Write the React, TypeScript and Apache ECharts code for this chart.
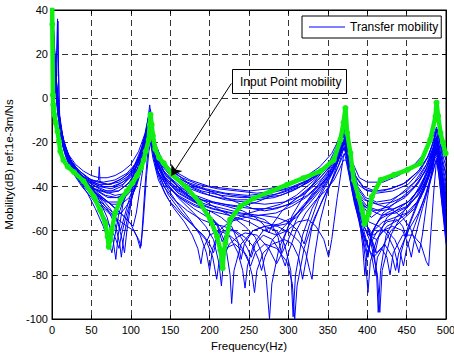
import React, { useEffect, useRef } from "react";
import * as echarts from "echarts";

const FONT = "'Liberation Sans', Arial, Helvetica, sans-serif";

const xTicks = { min: 0, max: 500, interval: 50 };
const yTicks = { min: -100, max: 40, interval: 20 };

const inputPoint: number[][] = [
  [0, 52], [0.4, 33.5], [1.2, 1.5], [1.6, -3], [2.2, -5], [2.9, -7.5], [4.6, -11], [7, -15], [8.9, -19.5], [10.5, -24],
  [14.5, -28], [20, -31], [28, -33.5], [40, -37.5], [53, -44.5], [61, -50.6], [67.7, -56.6], [70.6, -62.7], [72, -67.3],
  [74, -64], [76, -59.5], [80, -52], [87, -46], [95, -42], [102, -38.5], [108, -35], [113, -31.5], [116.3, -28],
  [119, -24], [122.7, -18.8], [124, -12], [125, -7.4], [126.5, -12], [128, -17], [131, -23], [136, -27], [141.7, -29.4],
  [152, -34.5], [171, -40.5], [188, -47.5], [201, -55], [209.5, -62.7], [213.7, -68.8], [215.5, -73], [216.5, -77],
  [218, -70], [220, -65.7], [226, -55], [239, -49], [256, -45.3], [277, -42.3], [298, -39.2], [319, -36.2], [341, -33],
  [357.5, -28], [366, -18.8], [370, -11], [372.4, -4.4], [374.5, -15.7], [378.7, -24.8], [381, -32], [383, -37],
  [389, -44.5], [393.6, -50.6], [396.6, -57], [399, -55], [402, -52], [406, -44.5], [417, -37], [434, -34.7],
  [451, -32.4], [467.5, -29.4], [480, -18.8], [486.7, -8.2], [488, -2], [490, -8], [493, -15.7], [496, -20], [499.5, -25],
];

const b1 = [[0.5,45],[3,25],[5,10],[7,36],[8,18],[10,-12],[15,-20],[20,-25],[30,-30],[40,-33],[50,-35],[60,-36],[70,-36],[80,-35],[90,-33],[100,-30],[110,-24],[118,-16],[122,-9],[124,-3],[126,-10],[130,-20],[140,-28],[150,-32],[175,-37],[200,-40],[225,-41],[250,-42],[275,-41],[300,-39],[320,-36],[340,-31],[355,-25],[365,-18],[370,-11],[372,-9],[375,-17],[380,-28],[390,-36],[400,-38],[420,-38],[440,-35],[460,-30],[475,-24],[484,-17],[488,-13],[492,-20],[500,-28]];
const b2 = [[1,30],[4,12],[8,-5],[12,-16],[20,-27],[30,-33],[45,-37],[60,-39],[75,-39],[90,-36],[100,-33],[110,-27],[117,-20],[121,-13],[123,-7],[125,-5],[127,-12],[132,-22],[140,-29],[160,-36],[180,-40],[200,-42],[230,-44],[260,-45],[290,-43],[315,-40],[335,-35],[350,-30],[362,-24],[369,-16],[372,-12],[375,-20],[380,-31],[388,-39],[400,-42],[420,-42],[445,-39],[465,-33],[478,-26],[485,-19],[488,-15],[491,-21],[496,-30],[500,-34]];
const b3 = [[1,35],[3,18],[6,0],[10,-14],[16,-24],[25,-32],[40,-38],[50,-41],[60,-44],[75,-48],[90,-53],[100,-57],[108,-63],[112,-68],[114,-62],[118,-40],[122,-22],[124,-12],[126,-18],[130,-28],[140,-35],[160,-41],[190,-46],[220,-48],[240,-49],[260,-47],[280,-44],[310,-40],[335,-35],[355,-29],[366,-22],[371,-14],[373,-15],[377,-27],[385,-40],[395,-49],[405,-54],[420,-50],[440,-44],[460,-38],[475,-30],[484,-22],[487,-16],[490,-24],[495,-36],[500,-45]];
const b4 = [[0.5,45],[3,20],[7,2],[10,-10],[15,-20],[25,-29],[35,-34],[50,-40],[60,-46],[70,-54],[77,-63],[81,-73],[84,-62],[90,-48],[100,-38],[110,-28],[117,-19],[121,-12],[124,-8],[127,-15],[133,-27],[145,-35],[165,-42],[185,-48],[200,-53],[210,-58],[216,-65],[220,-62],[230,-55],[250,-52],[270,-50],[290,-48],[310,-44],[330,-38],[345,-33],[358,-27],[366,-20],[371,-13],[374,-18],[378,-30],[385,-44],[392,-55],[398,-63],[402,-68],[407,-60],[420,-52],[440,-46],[460,-40],[474,-33],[482,-25],[487,-18],[490,-22],[495,-35],[500,-48]];
const b5 = [[2,20],[5,5],[9,-10],[14,-22],[20,-28],[30,-35],[45,-43],[55,-50],[65,-58],[72,-65],[76,-70],[79,-64],[85,-52],[95,-42],[105,-33],[113,-25],[119,-17],[123,-10],[125,-7],[128,-16],[133,-28],[145,-38],[160,-45],[180,-52],[195,-58],[205,-64],[212,-75],[215,-85],[218,-72],[225,-66],[235,-63],[245,-61],[260,-62],[275,-68],[285,-75],[292,-70],[300,-64],[310,-55],[325,-46],[340,-38],[352,-32],[362,-26],[368,-19],[371,-15],[375,-22],[380,-35],[388,-48],[396,-58],[405,-66],[413,-80],[416,-97],[419,-78],[430,-62],[445,-52],[460,-44],[472,-36],[481,-28],[486,-20],[489,-17],[492,-28],[496,-42],[500,-55]];
const b6 = [[1,25],[4,8],[8,-8],[13,-20],[20,-28],[30,-34],[45,-40],[60,-42],[75,-42],[88,-40],[100,-35],[110,-29],[117,-22],[121,-15],[124,-11],[127,-17],[132,-26],[142,-33],[160,-40],[180,-46],[195,-51],[210,-57],[220,-66],[226,-80],[228,-93],[231,-78],[240,-66],[255,-60],[270,-58],[285,-60],[295,-66],[303,-78],[306,-99],[309,-80],[318,-62],[330,-50],[342,-42],[355,-34],[364,-26],[369,-20],[372,-17],[376,-25],[382,-38],[392,-50],[402,-60],[410,-70],[415,-62],[425,-54],[440,-50],[455,-46],[468,-40],[478,-32],[485,-24],[488,-20],[492,-30],[497,-45],[500,-55]];
const b7 = [[1,32],[3,15],[7,-3],[11,-15],[18,-26],[28,-33],[40,-38],[55,-41],[70,-43],[85,-42],[98,-38],[108,-32],[116,-24],[120,-18],[123,-13],[125,-14],[129,-24],[136,-31],[150,-36],[170,-42],[190,-46],[210,-50],[230,-54],[245,-58],[258,-63],[266,-70],[272,-82],[276,-100],[279,-84],[288,-68],[300,-58],[315,-50],[330,-44],[345,-38],[357,-32],[365,-26],[370,-21],[373,-19],[377,-28],[384,-40],[394,-52],[404,-62],[412,-70],[420,-67],[430,-60],[445,-55],[460,-50],[472,-42],[480,-34],[486,-26],[489,-22],[493,-34],[500,-58]];
const b8 = [[1,36],[4,18],[7,0],[11,-13],[17,-22],[25,-29],[35,-33],[50,-37],[65,-38],[80,-37],[95,-34],[105,-30],[113,-23],[119,-15],[122,-9],[124,-6],[126,-9],[129,-18],[135,-26],[145,-31],[165,-36],[185,-39],[210,-41],[235,-42],[260,-43],[285,-42],[305,-40],[325,-37],[345,-33],[357,-28],[365,-22],[369,-17],[372,-13],[374,-16],[378,-26],[385,-35],[395,-40],[410,-42],[430,-41],[450,-38],[465,-33],[476,-27],[483,-21],[487,-15],[489,-14],[492,-19],[496,-26],[500,-31]];
const b9 = [[2,28],[5,10],[9,-6],[14,-18],[22,-27],[32,-33],[45,-39],[58,-44],[70,-50],[80,-57],[86,-66],[88,-72],[91,-63],[98,-50],[106,-38],[113,-28],[118,-21],[122,-15],[125,-12],[128,-19],[134,-30],[145,-40],[160,-48],[175,-55],[188,-62],[196,-70],[200,-78],[204,-68],[212,-60],[225,-56],[245,-54],[265,-53],[285,-54],[300,-56],[312,-60],[320,-66],[326,-58],[338,-46],[350,-38],[360,-31],[367,-25],[371,-22],[375,-28],[382,-42],[390,-54],[397,-65],[401,-72],[405,-62],[415,-55],[430,-52],[450,-49],[465,-44],[476,-36],[484,-27],[488,-23],[492,-32],[497,-48],[500,-60]];
const b10 = [[2,15],[6,-2],[10,-15],[16,-25],[25,-33],[38,-40],[50,-45],[62,-51],[72,-57],[80,-63],[85,-68],[88,-62],[95,-52],[104,-42],[112,-33],[118,-25],[122,-18],[125,-15],[128,-22],[135,-34],[148,-44],[165,-52],[180,-58],[195,-64],[204,-72],[209,-82],[212,-74],[220,-68],[232,-66],[244,-70],[252,-76],[258,-70],[270,-66],[285,-68],[298,-74],[305,-84],[308,-100],[311,-85],[320,-68],[332,-55],[345,-45],[356,-37],[364,-30],[369,-24],[372,-22],[376,-30],[383,-45],[392,-58],[400,-67],[408,-72],[418,-68],[425,-72],[429,-80],[433,-70],[445,-62],[458,-62],[468,-66],[475,-74],[478,-76],[481,-60],[485,-40],[488,-28],[491,-35],[496,-52],[500,-66]];
const b11 = [[0.5,45],[3,22],[6,10],[7.5,35],[9,-9],[14,-19],[22,-27],[32,-32],[45,-36],[55,-38],[59,-37],[60,-31],[61,-38],[70,-39],[85,-38],[98,-35],[108,-30],[115,-24],[120,-16],[123,-11],[125,-9],[127,-13],[131,-22],[140,-30],[155,-35],[175,-39],[200,-42],[220,-45],[240,-48],[255,-50],[270,-51],[285,-50],[300,-48],[320,-43],[338,-37],[352,-31],[362,-25],[368,-19],[371,-16],[374,-21],[379,-33],[386,-43],[396,-49],[410,-51],[428,-49],[448,-45],[464,-39],[475,-32],[482,-26],[486,-20],[489,-19],[492,-26],[497,-38],[500,-44]];
const b12 = [[1,22],[4,6],[8,-9],[12,-19],[19,-28],[28,-34],[40,-39],[52,-43],[64,-46],[76,-48],[88,-48],[98,-45],[107,-39],[114,-31],[119,-23],[122,-17],[124,-16],[127,-21],[132,-31],[142,-40],[155,-46],[172,-51],[190,-55],[205,-57],[218,-58],[232,-60],[245,-63],[255,-67],[262,-73],[266,-78],[270,-72],[280,-64],[295,-58],[312,-52],[328,-46],[342,-40],[354,-34],[363,-28],[368,-23],[371,-20],[375,-27],[381,-40],[388,-52],[394,-62],[398,-74],[401,-88],[404,-74],[412,-64],[425,-58],[440,-55],[455,-51],[468,-45],[478,-36],[485,-27],[488,-25],[492,-33],[497,-50],[500,-62]];
const b13 = [[2,24],[5,8],[9,-7],[14,-19],[21,-27],[30,-33],[42,-38],[55,-42],[68,-46],[80,-50],[90,-53],[98,-56],[103,-58],[107,-52],[112,-40],[117,-28],[121,-20],[124,-17],[127,-22],[133,-32],[144,-39],[160,-44],[180,-48],[200,-51],[215,-54],[228,-58],[236,-65],[240,-73],[244,-66],[255,-60],[270,-58],[288,-57],[305,-54],[322,-48],[338,-41],[352,-34],[362,-28],[367,-24],[371,-23],[375,-28],[382,-40],[390,-50],[400,-58],[408,-62],[415,-60],[425,-56],[438,-55],[445,-58],[450,-63],[454,-57],[464,-48],[475,-38],[483,-30],[487,-24],[490,-27],[495,-42],[500,-52]];
const b14 = [[1,30],[4,12],[8,-5],[12,-16],[18,-25],[26,-31],[36,-35],[50,-39],[65,-42],[80,-44],[95,-43],[105,-39],[113,-32],[118,-25],[122,-18],[125,-17],[128,-24],[134,-33],[146,-40],[162,-45],[182,-49],[200,-51],[225,-53],[250,-56],[270,-60],[285,-62],[298,-60],[312,-56],[325,-55],[335,-58],[345,-64],[351,-72],[355,-64],[362,-45],[367,-33],[370,-26],[373,-25],[377,-33],[384,-46],[393,-56],[402,-62],[412,-64],[420,-60],[432,-58],[445,-60],[452,-66],[456,-72],[460,-64],[470,-50],[480,-38],[486,-30],[489,-28],[493,-36],[498,-50],[500,-54]];
const b15 = [[1,34],[3,17],[6,-1],[10,-13],[15,-21],[24,-29],[35,-34],[48,-38],[62,-40],[76,-40],[90,-38],[102,-33],[111,-26],[117,-19],[121,-12],[123,-8],[125,-10],[128,-17],[134,-26],[144,-32],[160,-37],[180,-41],[200,-44],[220,-46],[245,-47],[270,-48],[295,-47],[318,-44],[338,-38],[352,-33],[362,-27],[368,-22],[371,-20],[375,-26],[381,-37],[390,-48],[400,-58],[408,-68],[412,-80],[414,-97],[417,-78],[424,-62],[436,-54],[450,-50],[463,-44],[474,-36],[482,-27],[487,-20],[490,-22],[494,-32],[500,-42]];
const b16 = [[2,18],[5,3],[9,-11],[14,-22],[22,-30],[34,-37],[48,-43],[60,-48],[72,-52],[84,-55],[95,-58],[104,-60],[110,-64],[113,-67],[116,-55],[120,-35],[123,-24],[125,-20],[128,-27],[135,-37],[148,-46],[165,-53],[180,-58],[192,-62],[200,-66],[205,-70],[209,-64],[218,-60],[230,-60],[240,-63],[248,-68],[253,-72],[258,-66],[268,-62],[280,-64],[290,-70],[296,-76],[300,-70],[310,-60],[322,-52],[335,-46],[347,-42],[358,-37],[365,-32],[370,-28],[373,-28],[377,-35],[384,-48],[392,-58],[400,-66],[406,-72],[410,-80],[413,-72],[422,-66],[432,-72],[436,-78],[440,-70],[452,-60],[465,-52],[476,-42],[484,-32],[488,-27],[492,-38],[497,-54],[500,-63]];
const b17 = [[1,37],[3,21],[6,2],[10,-12],[15,-21],[22,-28],[32,-33],[45,-37],[60,-40],[75,-41],[90,-39],[102,-35],[111,-28],[117,-21],[121,-14],[124,-10],[126,-11],[130,-21],[138,-29],[150,-34],[170,-39],[190,-42],[215,-44],[240,-45],[265,-45],[290,-44],[310,-41],[330,-37],[347,-32],[358,-27],[365,-22],[369,-17],[372,-15],[375,-19],[380,-30],[388,-40],[398,-45],[412,-47],[430,-46],[450,-42],[466,-36],[477,-29],[484,-22],[488,-18],[491,-21],[496,-31],[500,-38]];
const b18 = [[2,26],[5,9],[9,-8],[13,-18],[20,-27],[30,-34],[42,-40],[56,-45],[68,-49],[78,-52],[84,-56],[87,-60],[90,-56],[97,-47],[106,-37],[114,-27],[119,-20],[122,-15],[124,-13],[127,-19],[133,-29],[145,-37],[162,-43],[182,-47],[205,-50],[230,-52],[252,-53],[270,-55],[280,-58],[287,-63],[291,-70],[295,-63],[305,-53],[320,-44],[335,-37],[350,-30],[360,-23],[366,-16],[370,-11],[372,-10],[374,-14],[378,-25],[384,-38],[392,-50],[400,-58],[405,-62],[410,-58],[420,-53],[435,-50],[452,-47],[467,-41],[477,-33],[484,-25],[488,-21],[491,-27],[496,-40],[500,-50]];
const b19 = [[1,28],[4,11],[8,-6],[13,-18],[20,-26],[30,-32],[42,-37],[56,-40],[70,-42],[84,-42],[96,-39],[106,-34],[114,-27],[119,-20],[122,-14],[124,-12],[127,-17],[132,-27],[142,-35],[158,-41],[178,-45],[200,-47],[222,-49],[242,-51],[258,-54],[268,-57],[275,-61],[280,-57],[292,-51],[308,-46],[325,-41],[340,-36],[353,-31],[362,-26],[367,-22],[371,-19],[374,-22],[379,-32],[386,-42],[396,-46],[412,-48],[430,-50],[445,-54],[455,-59],[462,-66],[466,-70],[470,-62],[476,-46],[482,-33],[487,-24],[490,-25],[494,-36],[500,-48]];
const b20 = [[2,21],[5,6],[9,-9],[14,-20],[21,-29],[31,-35],[44,-41],[57,-46],[68,-50],[78,-53],[88,-52],[98,-47],[107,-40],[114,-32],[119,-24],[122,-19],[124,-18],[127,-23],[133,-33],[143,-43],[155,-50],[168,-56],[178,-62],[185,-68],[189,-75],[192,-68],[200,-62],[212,-60],[225,-62],[238,-66],[248,-72],[254,-80],[257,-88],[260,-78],[268,-70],[280,-66],[295,-64],[305,-66],[313,-72],[318,-82],[322,-74],[330,-58],[342,-47],[354,-38],[363,-31],[368,-27],[371,-25],[375,-30],[381,-42],[389,-55],[396,-66],[400,-72],[404,-66],[413,-60],[425,-60],[435,-64],[442,-70],[446,-76],[450,-68],[460,-58],[472,-46],[481,-35],[486,-27],[489,-26],[493,-38],[498,-56],[500,-62]];
const b21 = [[1,33],[4,14],[8,-4],[12,-15],[18,-24],[26,-30],[38,-35],[52,-38],[66,-40],[80,-40],[94,-37],[104,-33],[112,-26],[118,-18],[122,-11],[124,-8],[126,-12],[130,-22],[138,-30],[150,-35],[168,-40],[190,-43],[212,-45],[235,-46],[258,-46],[282,-45],[305,-42],[326,-38],[344,-33],[356,-28],[364,-23],[369,-18],[372,-16],[375,-21],[380,-31],[388,-41],[398,-46],[414,-48],[432,-47],[450,-44],[465,-38],[476,-31],[484,-23],[488,-19],[491,-23],[496,-33],[500,-40]];
const b22 = [[1,29],[4,11],[8,-6],[12,-17],[19,-26],[28,-32],[40,-37],[54,-41],[68,-44],[82,-45],[95,-43],[105,-38],[113,-30],[118,-23],[122,-16],[124,-14],[127,-18],[132,-28],[142,-36],[156,-41],[175,-45],[195,-48],[218,-50],[240,-52],[262,-53],[284,-52],[304,-49],[322,-45],[338,-40],[352,-35],[361,-30],[367,-25],[371,-22],[375,-26],[381,-36],[389,-45],[400,-50],[418,-53],[436,-52],[452,-49],[466,-43],[477,-35],[484,-27],[488,-23],[492,-29],[497,-42],[500,-50]];
const b23 = [[1,38],[3,20],[6,3],[10,-11],[15,-20],[22,-27],[32,-32],[44,-36],[58,-38],[72,-39],[86,-37],[98,-34],[108,-29],[115,-22],[120,-14],[123,-8],[125,-6],[127,-11],[131,-20],[139,-28],[152,-33],[172,-38],[195,-41],[220,-43],[248,-44],[275,-43],[300,-41],[322,-38],[342,-33],[355,-28],[364,-21],[369,-15],[371,-12],[374,-15],[378,-25],[386,-36],[396,-41],[412,-43],[432,-42],[452,-39],[467,-33],[478,-26],[485,-18],[488,-14],[491,-18],[496,-28],[500,-35]];
const b24 = [[2,23],[5,7],[9,-8],[14,-20],[21,-28],[31,-34],[44,-40],[58,-44],[72,-47],[86,-47],[98,-43],[108,-37],[115,-29],[120,-21],[123,-16],[125,-15],[128,-21],[134,-31],[146,-39],[162,-45],[180,-50],[198,-54],[214,-58],[226,-63],[236,-70],[242,-78],[245,-86],[248,-76],[256,-66],[268,-60],[282,-58],[296,-57],[310,-54],[326,-48],[342,-41],[355,-34],[364,-27],[369,-22],[372,-20],[376,-27],[383,-41],[390,-55],[394,-66],[397,-80],[400,-70],[408,-60],[420,-56],[435,-54],[450,-52],[463,-47],[475,-38],[483,-29],[487,-23],[491,-28],[496,-44],[500,-56]];
const b25 = [[1,27],[4,10],[8,-7],[13,-19],[20,-27],[30,-33],[43,-38],[57,-42],[71,-45],[85,-45],[97,-41],[107,-35],[114,-28],[119,-21],[122,-15],[124,-13],[127,-18],[133,-29],[144,-37],[160,-43],[180,-47],[202,-50],[225,-52],[248,-54],[268,-56],[286,-58],[302,-61],[314,-65],[322,-70],[327,-78],[330,-82],[333,-72],[340,-56],[350,-42],[359,-33],[366,-25],[370,-20],[373,-18],[377,-26],[384,-39],[392,-50],[402,-56],[415,-58],[426,-62],[434,-68],[438,-74],[440,-79],[443,-70],[452,-58],[464,-47],[475,-37],[483,-28],[487,-22],[490,-24],[495,-37],[500,-46]];
const b26 = [[1,31],[4,13],[8,-5],[12,-16],[18,-25],[27,-32],[38,-37],[50,-41],[62,-45],[74,-50],[84,-57],[89,-64],[92,-70],[95,-60],[101,-46],[108,-36],[114,-28],[119,-20],[122,-14],[124,-11],[127,-16],[133,-27],[144,-35],[160,-40],[182,-44],[205,-47],[230,-49],[255,-50],[280,-50],[303,-48],[324,-44],[342,-38],[355,-32],[364,-26],[369,-20],[372,-18],[375,-23],[381,-34],[389,-44],[400,-49],[416,-51],[434,-50],[452,-47],[466,-41],[477,-33],[484,-25],[488,-21],[491,-26],[496,-38],[500,-46]];

const transferCurves = [b1, b2, b3, b4, b5, b6, b7, b8, b9, b10, b11, b12, b13, b14, b15, b16, b17, b18, b19, b20, b21, b22, b23, b24, b25, b26];

const arrowFrom = [227.6, 6.7];
const arrowTo = [151.5, -35.1];

export default function App() {
  const ref = useRef<HTMLDivElement>(null);
  useEffect(() => {
    if (!ref.current) return;
    const chart = echarts.init(ref.current, null, { renderer: "svg" });
    const axisCommon = {
      axisLine: { show: true, onZero: false, lineStyle: { color: "#000", width: 1 } },
      axisTick: { show: true, inside: true, length: 4, lineStyle: { color: "#000" } },
    };
    const blueSeries = transferCurves.map((c) => ({
      type: "line",
      name: "Transfer mobility",
      data: c,
      symbol: "none",
      showSymbol: false,
      lineStyle: { color: "#0000ff", width: 1 },
      itemStyle: { color: "#0000ff" },
      z: 2,
      silent: true,
    }));
    chart.setOption({
      animation: false,
      backgroundColor: "#fff",
      textStyle: { fontFamily: FONT },
      grid: {
        left: 52, right: 8, top: 10, bottom: 36,
        containLabel: false, outerBoundsMode: "none",
        show: true, borderColor: "#000", borderWidth: 1,
      },
      legend: {
        data: [{ name: "Transfer mobility", icon: "rect" }],
        left: 302,
        top: 16,
        orient: "horizontal",
        itemWidth: 36,
        itemHeight: 1.2,
        itemGap: 5,
        padding: [4, 3, 4, 7],
        borderColor: "#000",
        borderWidth: 1,
        backgroundColor: "#fff",
        itemStyle: { color: "#0000ff" },
        textStyle: { fontSize: 12, color: "#000", fontFamily: FONT, lineHeight: 14 },
        z: 10,
      },
      xAxis: [
        {
          type: "value",
          ...xTicks,
          name: "Frequency(Hz)",
          nameLocation: "middle",
          nameGap: 20,
          nameTextStyle: { fontSize: 11.5, color: "#000", fontFamily: FONT },
          ...axisCommon,
          axisLabel: { fontSize: 11, color: "#000", margin: 5, fontFamily: FONT },
          splitLine: { show: true, lineStyle: { color: "#333", type: [6, 4], width: 1 } },
        },
        {
          type: "value",
          position: "top",
          ...xTicks,
          ...axisCommon,
          axisLabel: { show: false },
          splitLine: { show: false },
        },
      ],
      yAxis: [
        {
          type: "value",
          ...yTicks,
          name: "Mobility(dB) ref:1e-3m/Ns",
          nameLocation: "middle",
          nameGap: 31,
          nameTextStyle: { fontSize: 11.5, color: "#000", fontFamily: FONT },
          ...axisCommon,
          axisLabel: { fontSize: 11, color: "#000", margin: 4, fontFamily: FONT },
          splitLine: { show: true, lineStyle: { color: "#333", type: [6, 4], width: 1 } },
        },
        {
          type: "value",
          position: "right",
          ...yTicks,
          ...axisCommon,
          axisLabel: { show: false },
          splitLine: { show: false },
        },
      ],
      series: [
        ...blueSeries,
        {
          type: "line",
          name: "Input Point mobility",
          data: inputPoint,
          symbol: "circle",
          symbolSize: 6,
          showSymbol: true,
          showAllSymbol: true,
          lineStyle: { color: "#11ee11", width: 4.5 },
          itemStyle: { color: "#11ee11", borderWidth: 0 },
          z: 3,
          silent: true,
          markLine: {
            silent: true,
            symbol: ["none", "arrow"],
            symbolSize: 10,
            lineStyle: { color: "#000", width: 1, type: "solid" },
            label: { show: false },
            data: [[{ coord: arrowFrom }, { coord: arrowTo }]],
          },
        },
      ],
      graphic: [
        {
          type: "group",
          z: 100,
          children: [
            {
              type: "rect",
              shape: { x: 232.5, y: 69.5, width: 114, height: 24 },
              style: { fill: "#fff", stroke: "#000", lineWidth: 1 },
            },
            {
              type: "text",
              x: 240,
              y: 82,
              style: {
                text: "Input Point mobility",
                fontSize: 12,
                fontFamily: FONT,
                fill: "#000",
                verticalAlign: "middle",
              },
            },
          ],
        },
      ],
    });
    return () => chart.dispose();
  }, []);
  return (
    <div
      ref={ref}
      style={{ position: "fixed", left: 0, top: 0, width: 454, height: 355, background: "#fff" }}
    />
  );
}
